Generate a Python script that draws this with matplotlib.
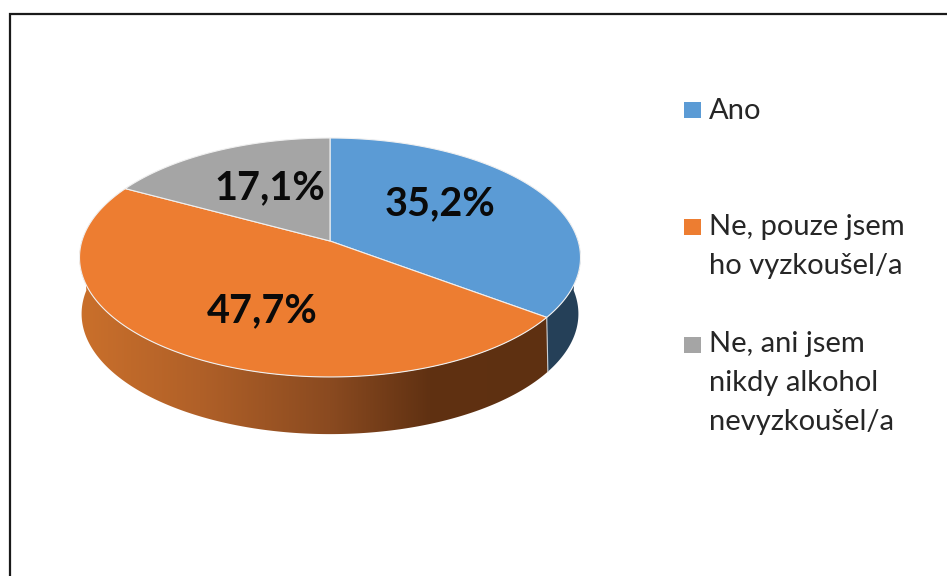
import numpy as np
import matplotlib
matplotlib.use("Agg")
import matplotlib.pyplot as plt
from matplotlib.patches import Polygon, Rectangle

# Survey shares, in percent
categories = ["Ano", "Ne, pouze jsem\nho vyzkoušel/a", "Ne, ani jsem\nnikdy alkohol\nnevyzkoušel/a"]
shares = [35.2, 47.7, 17.1]
share_labels = ["35,2%", "47,7%", "17,1%"]

top_colors = ["#5B9BD5", "#ED7D31", "#A5A5A5"]
side_base = "#254058"

# Projection of the pie's disc onto the page (pixel axes)
CX = 330.0
TOP = dict(apex=241.0, a=248.1, b=117.2, p=0.138)
BOTTOM = dict(apex=294.0, a=245.0, b=117.0, p=0.165)


def project(theta, radius, face):
    """Map clockwise-from-north angle and radius to page coordinates."""
    u = radius * np.sin(theta)
    v = radius * np.cos(theta)
    w = 1 + face["p"] * v
    return CX + face["a"] * u / w, face["apex"] - face["b"] * v / w


def side_shade(x):
    """Left-to-right shading of the orange rim."""
    stops = [85, 200, 330, 430, 545]
    reds = [0xC9, 0xB0, 0x8A, 0x60, 0x5E]
    greens = [0x6F, 0x60, 0x4A, 0x31, 0x30]
    blues = [0x2B, 0x28, 0x20, 0x12, 0x11]
    return np.column_stack([np.interp(x, stops, reds),
                            np.interp(x, stops, greens),
                            np.interp(x, stops, blues)]) / 255


fig = plt.figure(figsize=(9.47, 5.76), dpi=100, facecolor="white")
ax = fig.add_axes([0, 0, 1, 1])

# Chart frame, running off the right and bottom edges
ax.plot([9.5, 9.5, 947], [576, 13.5, 13.5], color="#1A1A1A", lw=1.6, solid_joinstyle="miter")

fractions = np.asarray(shares) / np.sum(shares)
edges = np.concatenate([[0.0], np.cumsum(fractions)]) * 2 * np.pi

# Rim of the disc: only the part facing the viewer is visible
rim_start = edges[0] + np.pi / 2 - 0.03
rim_split = edges[1]
rim_end = 3 * np.pi / 2 + 0.03

ts = np.linspace(rim_start, rim_split, 60)
xt, yt = project(ts, 1, TOP)
xb, yb = project(ts, 1, BOTTOM)
ax.add_patch(Polygon(np.column_stack([np.r_[xt, xb[::-1]], np.r_[yt, yb[::-1]]]),
                     closed=True, facecolor=side_base, edgecolor="none", zorder=2))

# Orange rim: a horizontal colour ramp clipped to the rim outline
ts = np.linspace(rim_split, rim_end, 200)
xt, yt = project(ts, 1, TOP)
xb, yb = project(ts, 1, BOTTOM)
rim_outline = Polygon(np.column_stack([np.r_[xt, xb[::-1]], np.r_[yt, yb[::-1]]]),
                      closed=True, facecolor="none", edgecolor="none",
                      transform=ax.transData)
ax.add_patch(rim_outline)
ramp_x = np.linspace(70, 560, 490)
ramp = side_shade(ramp_x)[np.newaxis, :, :]
image = ax.imshow(ramp, extent=(70, 560, 450, 240), aspect="auto", zorder=2,
                  interpolation="bilinear")
image.set_clip_path(rim_outline)

# Seam between the blue and orange rim segments
xt0, yt0 = project(rim_split, 1, TOP)
xb0, yb0 = project(rim_split, 1, BOTTOM)
ax.plot([xt0, xb0], [yt0, yb0], color="#C9CDD2", lw=0.8, zorder=3)

# Top face wedges
for start, stop, color in zip(edges[:-1], edges[1:], top_colors):
    theta = np.linspace(start, stop, 200)
    x, y = project(theta, 1, TOP)
    xy = np.column_stack([np.r_[CX, x], np.r_[TOP["apex"], y]])
    ax.add_patch(Polygon(xy, closed=True, facecolor=color, edgecolor="#F0F0F0", lw=0.8, zorder=4))

# Value labels
label_centers = [(440, 204), (262, 311), (270, 188)]
for (lx, ly), text in zip(label_centers, share_labels):
    ax.text(lx, ly, text, ha="center", va="center", fontsize=28.5, fontweight="bold",
            family="Lato", color="#0A0A0A", zorder=5)

# Legend
legend_text_tops = [98, 214, 331]
legend_key_tops = [102, 219, 337]
for text_top, key_top, label, color in zip(legend_text_tops, legend_key_tops, categories, top_colors):
    ax.add_patch(Rectangle((684, key_top), 16.5, 16, facecolor=color, edgecolor="none", zorder=5))
    ax.text(709, text_top, label, ha="left", va="top", fontsize=21, family="Lato",
            color="#262626", linespacing=1.63, zorder=5)

ax.set_xlim(0, 947)
ax.set_ylim(576, 0)
ax.axis("off")

fig.savefig("out.png", dpi=100, facecolor="white")
